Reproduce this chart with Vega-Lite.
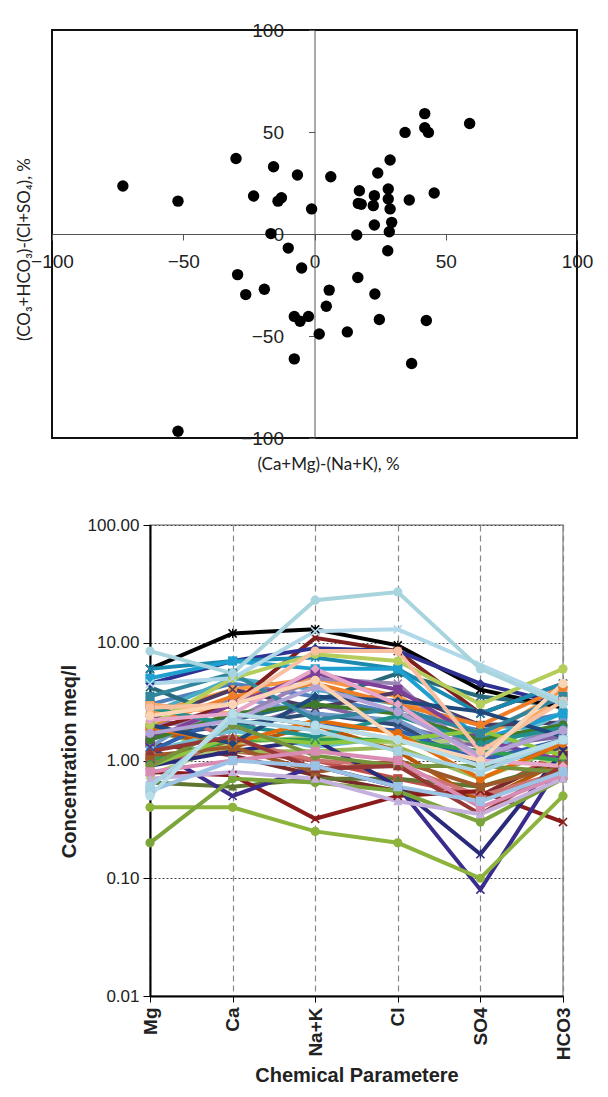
{
  "$schema": "https://vega.github.io/schema/vega-lite/v6.json",
  "background": "white",
  "padding": {"left": 14, "top": 20, "right": 5, "bottom": 5},
  "config": {
    "font": "Liberation Sans",
    "concat": {"spacing": 42}
  },
  "vconcat": [
    {
      "width": 525,
      "height": 408,
      "view": {"stroke": "#111", "strokeWidth": 2},
      "data": {"name": "scatter"},
      "mark": {"type": "point", "filled": true, "color": "#000", "size": 130, "opacity": 1},
      "encoding": {
        "x": {
          "field": "x", "type": "quantitative",
          "scale": {"domain": [-100, 100], "nice": false, "zero": false},
          "axis": {
            "orient": "bottom", "offset": -204, "values": [-100, -50, 0, 50, 100],
            "grid": false, "domainColor": "#555", "domainWidth": 1, "tickColor": "#555", "tickSize": 6,
            "labelPadding": 12, "labelFont": "Liberation Sans", "labelFontSize": 19, "labelColor": "#222", "labelFlush": false, "labelOverlap": false,
            "title": "(Ca+Mg)-(Na+K), %", "titleFont": "Lato", "titleFontSize": 17, "titleFontWeight": "normal",
            "titleColor": "#222", "titleX": 276, "titleY": 230, "titleBaseline": "middle", "titleAlign": "center"
          }
        },
        "y": {
          "field": "y", "type": "quantitative",
          "scale": {"domain": [-100, 100], "nice": false, "zero": false},
          "axis": {
            "orient": "left", "offset": -262.5, "values": [-100, -50, 0, 50, 100],
            "grid": false, "domainColor": "#555", "domainWidth": 1, "tickColor": "#555", "tickSize": 6,
            "labelPadding": 25, "labelFont": "Liberation Sans", "labelFontSize": 19, "labelColor": "#222", "labelFlush": false, "labelOverlap": false,
            "title": "(CO₃+HCO₃)-(Cl+SO₄), %", "titleFont": "Lato", "titleFontSize": 17, "titleFontWeight": "normal",
            "titleColor": "#222", "titleX": -290, "titleY": 219, "titleAngle": -90, "titleBaseline": "middle", "titleAlign": "center"
          }
        }
      }
    },
    {
      "spacing": 0,
      "hconcat": [
        {
          "width": 6,
          "height": 10,
          "view": {"stroke": null},
          "data": {"values": []},
          "mark": {"type": "point", "opacity": 0}
        },
        {
          "width": 413,
          "height": 471,
          "view": {"stroke": "#999", "strokeWidth": 1.5},
          "data": {"name": "ions"},
          "encoding": {
            "x": {
              "field": "p", "type": "nominal",
              "sort": ["Mg", "Ca", "Na+K", "Cl", "SO4", "HCO3"],
              "scale": {"type": "point", "padding": 0},
              "axis": {
                "labelAngle": -90, "labelFont": "Liberation Sans", "labelFontSize": 19, "labelFontWeight": "bold", "labelColor": "#222", "labelPadding": 5,
                "domainColor": "#000", "domainWidth": 2, "tickColor": "#000", "tickSize": 6,
                "grid": true, "gridColor": "#888", "gridDash": [6, 4], "gridWidth": 1.2,
                "title": "Chemical Parametere", "titleFont": "Liberation Sans", "titleFontSize": 20, "titleFontWeight": "bold", "titleColor": "#222", "titlePadding": 6
              }
            },
            "y": {
              "field": "v", "type": "quantitative",
              "scale": {"type": "log", "domain": [0.01, 100], "nice": false},
              "axis": {
                "values": [0.01, 0.1, 1, 10, 100], "format": ".2f",
                "labelFont": "Liberation Sans", "labelFontSize": 17, "labelColor": "#222", "labelPadding": 4,
                "domainColor": "#000", "domainWidth": 2, "tickColor": "#000", "tickSize": 7,
                "grid": true, "gridColor": "#444", "gridDash": [2, 2], "gridWidth": 1,
                "title": "Concentration meq/l", "titleFont": "Liberation Sans", "titleFontSize": 20, "titleFontWeight": "bold", "titleColor": "#222",
                "titleX": -81, "titleBaseline": "middle", "titleY": 236, "titleAlign": "center", "titleAngle": -90
              }
            },
            "color": {
              "field": "s", "type": "nominal", "legend": null,
              "scale": {
                "domain": ["a01","a02","a03","a04","a05","a06","a07","a08","a09","a10","a11","a12","a13","a14","a15","a16","a17","a18","a19","a20","a21","a22","a23","a24","a25","a26","a27","a28","a29","a30","a31","a32","a33","a34","a35","a36","a37","a38","a39","a40","a41","a42","a43","a44","a45","a46","a47","a48","a49","a50","a51","a52","a53"],
                "range": ["#4F81BD","#C0504D","#9BBB59","#8064A2","#4BACC6","#F79646","#2C4D75","#772C2A","#5F7530","#4D3B62","#276A7C","#B65708","#729ACA","#CD7371","#AFC97A","#9983B5","#6FBDD1","#F9AB6B","#000000","#8B1A1A","#7F1F1F","#3A2C8C","#2A2A7A","#2E3192","#1B8AB0","#1EA0D0","#F07E26","#7D3F98","#3060B0","#2F9E4E","#3E7A2A","#9C5A2A","#21908C","#8DC63F","#E46C0A","#1F497D","#76923C","#953735","#31859C","#8CB43C","#7BA43A","#B5CD5A","#E8A6C8","#D98CB3","#B3A2D6","#C4B0DC","#F8BFA0","#FBD4B4","#9CC3E5","#A6D3E3","#B7DDE8","#B0D8E8","#A8D4DE"]
              }
            }
          },
          "layer": [
            {"mark": {"type": "line", "strokeWidth": 4}},
            {
              "mark": {"type": "point", "filled": true, "size": 85, "opacity": 1},
              "encoding": {
                "shape": {
                  "field": "s", "type": "nominal", "legend": null,
                  "scale": {
                    "domain": ["a01","a02","a03","a04","a05","a06","a07","a08","a09","a10","a11","a12","a13","a14","a15","a16","a17","a18","a19","a20","a21","a22","a23","a24","a25","a26","a27","a28","a29","a30","a31","a32","a33","a34","a35","a36","a37","a38","a39","a40","a41","a42","a43","a44","a45","a46","a47","a48","a49","a50","a51","a52","a53"],
                    "range": ["diamond","square","triangle-up","M-1,-0.75L-0.75,-1L0,-0.25L0.75,-1L1,-0.75L0.25,0L1,0.75L0.75,1L0,0.25L-0.75,1L-1,0.75L-0.25,0Z","M-1,-0.75L-0.75,-1L0,-0.25L0.75,-1L1,-0.75L0.25,0L1,0.75L0.75,1L0,0.25L-0.75,1L-1,0.75L-0.25,0ZM-0.13,-1L0.13,-1L0.13,1L-0.13,1Z","circle","diamond","square","triangle-up","M-1,-0.75L-0.75,-1L0,-0.25L0.75,-1L1,-0.75L0.25,0L1,0.75L0.75,1L0,0.25L-0.75,1L-1,0.75L-0.25,0Z","M-1,-0.75L-0.75,-1L0,-0.25L0.75,-1L1,-0.75L0.25,0L1,0.75L0.75,1L0,0.25L-0.75,1L-1,0.75L-0.25,0ZM-0.13,-1L0.13,-1L0.13,1L-0.13,1Z","circle","diamond","square","triangle-up","M-1,-0.75L-0.75,-1L0,-0.25L0.75,-1L1,-0.75L0.25,0L1,0.75L0.75,1L0,0.25L-0.75,1L-1,0.75L-0.25,0Z","M-1,-0.75L-0.75,-1L0,-0.25L0.75,-1L1,-0.75L0.25,0L1,0.75L0.75,1L0,0.25L-0.75,1L-1,0.75L-0.25,0ZM-0.13,-1L0.13,-1L0.13,1L-0.13,1Z","circle","M-1,-0.75L-0.75,-1L0,-0.25L0.75,-1L1,-0.75L0.25,0L1,0.75L0.75,1L0,0.25L-0.75,1L-1,0.75L-0.25,0ZM-0.13,-1L0.13,-1L0.13,1L-0.13,1Z","M-1,-0.75L-0.75,-1L0,-0.25L0.75,-1L1,-0.75L0.25,0L1,0.75L0.75,1L0,0.25L-0.75,1L-1,0.75L-0.25,0Z","M-1,-0.75L-0.75,-1L0,-0.25L0.75,-1L1,-0.75L0.25,0L1,0.75L0.75,1L0,0.25L-0.75,1L-1,0.75L-0.25,0Z","M-1,-0.75L-0.75,-1L0,-0.25L0.75,-1L1,-0.75L0.25,0L1,0.75L0.75,1L0,0.25L-0.75,1L-1,0.75L-0.25,0Z","M-1,-0.75L-0.75,-1L0,-0.25L0.75,-1L1,-0.75L0.25,0L1,0.75L0.75,1L0,0.25L-0.75,1L-1,0.75L-0.25,0ZM-0.13,-1L0.13,-1L0.13,1L-0.13,1Z","diamond","M-1,-0.75L-0.75,-1L0,-0.25L0.75,-1L1,-0.75L0.25,0L1,0.75L0.75,1L0,0.25L-0.75,1L-1,0.75L-0.25,0ZM-0.13,-1L0.13,-1L0.13,1L-0.13,1Z","square","circle","square","diamond","triangle-up","circle","square","diamond","triangle-up","circle","diamond","circle","triangle-up","square","circle","circle","circle","diamond","square","circle","triangle-up","circle","circle","square","square","circle","M-1,-0.75L-0.75,-1L0,-0.25L0.75,-1L1,-0.75L0.25,0L1,0.75L0.75,1L0,0.25L-0.75,1L-1,0.75L-0.25,0Z","circle"]
                  }
                }
              }
            }
          ]
        }
      ]
    }
  ],
  "datasets": {
    "scatter": [
      {"x": -73.0, "y": 23.5}, {"x": -52.0, "y": 16.1}, {"x": -52.0, "y": -96.7}, {"x": -29.9, "y": 37.0},
      {"x": -23.2, "y": 18.6}, {"x": -15.6, "y": 33.0}, {"x": -13.9, "y": 16.1}, {"x": -12.6, "y": 17.8},
      {"x": -6.5, "y": 28.9}, {"x": 6.2, "y": 28.1}, {"x": -1.1, "y": 12.3}, {"x": -16.6, "y": 0.2},
      {"x": -10.0, "y": -6.9}, {"x": -4.9, "y": -16.7}, {"x": -29.3, "y": -19.9}, {"x": -19.1, "y": -27.1},
      {"x": -26.2, "y": -29.7}, {"x": 5.6, "y": -27.5}, {"x": 4.5, "y": -35.4}, {"x": -7.7, "y": -40.4},
      {"x": -5.5, "y": -42.8}, {"x": -2.3, "y": -40.4}, {"x": 1.8, "y": -49.0}, {"x": 12.5, "y": -48.0},
      {"x": -7.7, "y": -61.2}, {"x": 37.0, "y": -63.5}, {"x": 42.6, "y": -42.4}, {"x": 24.7, "y": -41.9},
      {"x": 23.0, "y": -29.4}, {"x": 16.5, "y": -21.3}, {"x": 27.9, "y": -8.2}, {"x": 16.1, "y": -0.5},
      {"x": 22.8, "y": 4.4}, {"x": 29.4, "y": 5.7}, {"x": 28.8, "y": 12.3}, {"x": 16.7, "y": 15.0},
      {"x": 17.8, "y": 14.6}, {"x": 17.1, "y": 21.2}, {"x": 22.4, "y": 13.9}, {"x": 22.8, "y": 18.8},
      {"x": 28.1, "y": 22.1}, {"x": 28.1, "y": 17.2}, {"x": 24.1, "y": 29.9}, {"x": 28.8, "y": 36.3},
      {"x": 36.1, "y": 16.7}, {"x": 45.6, "y": 20.1}, {"x": 34.5, "y": 49.8}, {"x": 42.0, "y": 59.0},
      {"x": 42.0, "y": 52.1}, {"x": 43.4, "y": 49.8}, {"x": 59.1, "y": 54.2}, {"x": 28.5, "y": 1.1}
    ],
    "ions": [
      {"s":"a01","p":"Mg","v":3.0},{"s":"a01","p":"Ca","v":4.5},{"s":"a01","p":"Na+K","v":3.5},{"s":"a01","p":"Cl","v":2.5},{"s":"a01","p":"SO4","v":1.8},{"s":"a01","p":"HCO3","v":2.5},
      {"s":"a02","p":"Mg","v":1.0},{"s":"a02","p":"Ca","v":1.2},{"s":"a02","p":"Na+K","v":1.0},{"s":"a02","p":"Cl","v":0.7},{"s":"a02","p":"SO4","v":0.5},{"s":"a02","p":"HCO3","v":1.2},
      {"s":"a03","p":"Mg","v":1.8},{"s":"a03","p":"Ca","v":1.2},{"s":"a03","p":"Na+K","v":1.2},{"s":"a03","p":"Cl","v":1.3},{"s":"a03","p":"SO4","v":0.7},{"s":"a03","p":"HCO3","v":1.3},
      {"s":"a04","p":"Mg","v":2.2},{"s":"a04","p":"Ca","v":1.8},{"s":"a04","p":"Na+K","v":3.0},{"s":"a04","p":"Cl","v":2.0},{"s":"a04","p":"SO4","v":1.3},{"s":"a04","p":"HCO3","v":1.6},
      {"s":"a05","p":"Mg","v":2.5},{"s":"a05","p":"Ca","v":5.0},{"s":"a05","p":"Na+K","v":4.0},{"s":"a05","p":"Cl","v":3.0},{"s":"a05","p":"SO4","v":2.0},{"s":"a05","p":"HCO3","v":1.8},
      {"s":"a06","p":"Mg","v":2.5},{"s":"a06","p":"Ca","v":4.0},{"s":"a06","p":"Na+K","v":5.0},{"s":"a06","p":"Cl","v":3.5},{"s":"a06","p":"SO4","v":1.5},{"s":"a06","p":"HCO3","v":4.0},
      {"s":"a07","p":"Mg","v":1.6},{"s":"a07","p":"Ca","v":2.0},{"s":"a07","p":"Na+K","v":2.5},{"s":"a07","p":"Cl","v":2.0},{"s":"a07","p":"SO4","v":0.9},{"s":"a07","p":"HCO3","v":1.3},
      {"s":"a08","p":"Mg","v":1.4},{"s":"a08","p":"Ca","v":1.1},{"s":"a08","p":"Na+K","v":0.75},{"s":"a08","p":"Cl","v":0.55},{"s":"a08","p":"SO4","v":0.5},{"s":"a08","p":"HCO3","v":1.1},
      {"s":"a09","p":"Mg","v":0.65},{"s":"a09","p":"Ca","v":0.6},{"s":"a09","p":"Na+K","v":0.7},{"s":"a09","p":"Cl","v":0.7},{"s":"a09","p":"SO4","v":0.6},{"s":"a09","p":"HCO3","v":0.95},
      {"s":"a10","p":"Mg","v":2.2},{"s":"a10","p":"Ca","v":4.0},{"s":"a10","p":"Na+K","v":2.8},{"s":"a10","p":"Cl","v":3.8},{"s":"a10","p":"SO4","v":2.0},{"s":"a10","p":"HCO3","v":2.1},
      {"s":"a11","p":"Mg","v":4.2},{"s":"a11","p":"Ca","v":2.2},{"s":"a11","p":"Na+K","v":3.2},{"s":"a11","p":"Cl","v":5.5},{"s":"a11","p":"SO4","v":3.5},{"s":"a11","p":"HCO3","v":2.9},
      {"s":"a12","p":"Mg","v":1.8},{"s":"a12","p":"Ca","v":1.3},{"s":"a12","p":"Na+K","v":2.0},{"s":"a12","p":"Cl","v":1.2},{"s":"a12","p":"SO4","v":0.45},{"s":"a12","p":"HCO3","v":1.0},
      {"s":"a13","p":"Mg","v":1.3},{"s":"a13","p":"Ca","v":3.5},{"s":"a13","p":"Na+K","v":2.5},{"s":"a13","p":"Cl","v":2.2},{"s":"a13","p":"SO4","v":1.0},{"s":"a13","p":"HCO3","v":2.2},
      {"s":"a14","p":"Mg","v":3.0},{"s":"a14","p":"Ca","v":1.5},{"s":"a14","p":"Na+K","v":1.0},{"s":"a14","p":"Cl","v":0.9},{"s":"a14","p":"SO4","v":0.5},{"s":"a14","p":"HCO3","v":0.8},
      {"s":"a15","p":"Mg","v":0.75},{"s":"a15","p":"Ca","v":1.4},{"s":"a15","p":"Na+K","v":1.6},{"s":"a15","p":"Cl","v":1.4},{"s":"a15","p":"SO4","v":1.5},{"s":"a15","p":"HCO3","v":0.9},
      {"s":"a16","p":"Mg","v":2.0},{"s":"a16","p":"Ca","v":2.2},{"s":"a16","p":"Na+K","v":5.0},{"s":"a16","p":"Cl","v":4.5},{"s":"a16","p":"SO4","v":1.0},{"s":"a16","p":"HCO3","v":2.0},
      {"s":"a17","p":"Mg","v":1.2},{"s":"a17","p":"Ca","v":1.8},{"s":"a17","p":"Na+K","v":1.3},{"s":"a17","p":"Cl","v":1.6},{"s":"a17","p":"SO4","v":1.1},{"s":"a17","p":"HCO3","v":2.6},
      {"s":"a18","p":"Mg","v":3.0},{"s":"a18","p":"Ca","v":2.5},{"s":"a18","p":"Na+K","v":2.0},{"s":"a18","p":"Cl","v":1.5},{"s":"a18","p":"SO4","v":1.2},{"s":"a18","p":"HCO3","v":3.5},
      {"s":"a19","p":"Mg","v":6.0},{"s":"a19","p":"Ca","v":12.0},{"s":"a19","p":"Na+K","v":13.0},{"s":"a19","p":"Cl","v":9.5},{"s":"a19","p":"SO4","v":4.0},{"s":"a19","p":"HCO3","v":2.8},
      {"s":"a20","p":"Mg","v":0.8},{"s":"a20","p":"Ca","v":0.75},{"s":"a20","p":"Na+K","v":0.32},{"s":"a20","p":"Cl","v":0.5},{"s":"a20","p":"SO4","v":0.55},{"s":"a20","p":"HCO3","v":0.3},
      {"s":"a21","p":"Mg","v":1.8},{"s":"a21","p":"Ca","v":3.0},{"s":"a21","p":"Na+K","v":11.0},{"s":"a21","p":"Cl","v":8.5},{"s":"a21","p":"SO4","v":2.5},{"s":"a21","p":"HCO3","v":4.5},
      {"s":"a22","p":"Mg","v":1.3},{"s":"a22","p":"Ca","v":0.5},{"s":"a22","p":"Na+K","v":0.9},{"s":"a22","p":"Cl","v":0.6},{"s":"a22","p":"SO4","v":0.08},{"s":"a22","p":"HCO3","v":1.0},
      {"s":"a23","p":"Mg","v":0.9},{"s":"a23","p":"Ca","v":1.2},{"s":"a23","p":"Na+K","v":1.5},{"s":"a23","p":"Cl","v":0.6},{"s":"a23","p":"SO4","v":0.16},{"s":"a23","p":"HCO3","v":1.2},
      {"s":"a24","p":"Mg","v":4.5},{"s":"a24","p":"Ca","v":7.0},{"s":"a24","p":"Na+K","v":9.0},{"s":"a24","p":"Cl","v":8.5},{"s":"a24","p":"SO4","v":4.5},{"s":"a24","p":"HCO3","v":3.0},
      {"s":"a25","p":"Mg","v":6.0},{"s":"a25","p":"Ca","v":7.0},{"s":"a25","p":"Na+K","v":7.5},{"s":"a25","p":"Cl","v":6.0},{"s":"a25","p":"SO4","v":2.5},{"s":"a25","p":"HCO3","v":4.5},
      {"s":"a26","p":"Mg","v":5.0},{"s":"a26","p":"Ca","v":7.0},{"s":"a26","p":"Na+K","v":6.0},{"s":"a26","p":"Cl","v":6.0},{"s":"a26","p":"SO4","v":1.5},{"s":"a26","p":"HCO3","v":2.5},
      {"s":"a27","p":"Mg","v":2.0},{"s":"a27","p":"Ca","v":3.5},{"s":"a27","p":"Na+K","v":4.5},{"s":"a27","p":"Cl","v":3.0},{"s":"a27","p":"SO4","v":2.0},{"s":"a27","p":"HCO3","v":4.2},
      {"s":"a28","p":"Mg","v":1.5},{"s":"a28","p":"Ca","v":3.0},{"s":"a28","p":"Na+K","v":5.5},{"s":"a28","p":"Cl","v":4.0},{"s":"a28","p":"SO4","v":1.5},{"s":"a28","p":"HCO3","v":1.0},
      {"s":"a29","p":"Mg","v":1.2},{"s":"a29","p":"Ca","v":2.5},{"s":"a29","p":"Na+K","v":2.0},{"s":"a29","p":"Cl","v":1.8},{"s":"a29","p":"SO4","v":1.0},{"s":"a29","p":"HCO3","v":1.5},
      {"s":"a30","p":"Mg","v":1.0},{"s":"a30","p":"Ca","v":1.5},{"s":"a30","p":"Na+K","v":1.5},{"s":"a30","p":"Cl","v":1.5},{"s":"a30","p":"SO4","v":1.2},{"s":"a30","p":"HCO3","v":1.0},
      {"s":"a31","p":"Mg","v":1.5},{"s":"a31","p":"Ca","v":2.5},{"s":"a31","p":"Na+K","v":3.0},{"s":"a31","p":"Cl","v":2.5},{"s":"a31","p":"SO4","v":1.5},{"s":"a31","p":"HCO3","v":2.0},
      {"s":"a32","p":"Mg","v":1.1},{"s":"a32","p":"Ca","v":1.3},{"s":"a32","p":"Na+K","v":0.8},{"s":"a32","p":"Cl","v":1.0},{"s":"a32","p":"SO4","v":0.6},{"s":"a32","p":"HCO3","v":0.9},
      {"s":"a33","p":"Mg","v":2.8},{"s":"a33","p":"Ca","v":2.0},{"s":"a33","p":"Na+K","v":1.6},{"s":"a33","p":"Cl","v":2.4},{"s":"a33","p":"SO4","v":1.4},{"s":"a33","p":"HCO3","v":1.9},
      {"s":"a34","p":"Mg","v":0.9},{"s":"a34","p":"Ca","v":1.6},{"s":"a34","p":"Na+K","v":1.4},{"s":"a34","p":"Cl","v":1.5},{"s":"a34","p":"SO4","v":1.8},{"s":"a34","p":"HCO3","v":1.1},
      {"s":"a35","p":"Mg","v":1.9},{"s":"a35","p":"Ca","v":1.4},{"s":"a35","p":"Na+K","v":2.2},{"s":"a35","p":"Cl","v":1.7},{"s":"a35","p":"SO4","v":0.7},{"s":"a35","p":"HCO3","v":1.4},
      {"s":"a36","p":"Mg","v":2.0},{"s":"a36","p":"Ca","v":1.4},{"s":"a36","p":"Na+K","v":3.5},{"s":"a36","p":"Cl","v":3.2},{"s":"a36","p":"SO4","v":2.6},{"s":"a36","p":"HCO3","v":1.6},
      {"s":"a37","p":"Mg","v":0.9},{"s":"a37","p":"Ca","v":2.0},{"s":"a37","p":"Na+K","v":1.1},{"s":"a37","p":"Cl","v":0.9},{"s":"a37","p":"SO4","v":0.9},{"s":"a37","p":"HCO3","v":0.8},
      {"s":"a38","p":"Mg","v":1.2},{"s":"a38","p":"Ca","v":1.6},{"s":"a38","p":"Na+K","v":0.85},{"s":"a38","p":"Cl","v":0.9},{"s":"a38","p":"SO4","v":0.35},{"s":"a38","p":"HCO3","v":0.9},
      {"s":"a39","p":"Mg","v":3.5},{"s":"a39","p":"Ca","v":5.5},{"s":"a39","p":"Na+K","v":2.2},{"s":"a39","p":"Cl","v":2.8},{"s":"a39","p":"SO4","v":1.7},{"s":"a39","p":"HCO3","v":3.5},
      {"s":"a40","p":"Mg","v":0.4},{"s":"a40","p":"Ca","v":0.4},{"s":"a40","p":"Na+K","v":0.25},{"s":"a40","p":"Cl","v":0.2},{"s":"a40","p":"SO4","v":0.1},{"s":"a40","p":"HCO3","v":0.5},
      {"s":"a41","p":"Mg","v":0.2},{"s":"a41","p":"Ca","v":0.7},{"s":"a41","p":"Na+K","v":0.65},{"s":"a41","p":"Cl","v":0.55},{"s":"a41","p":"SO4","v":0.3},{"s":"a41","p":"HCO3","v":0.7},
      {"s":"a42","p":"Mg","v":2.0},{"s":"a42","p":"Ca","v":5.0},{"s":"a42","p":"Na+K","v":8.0},{"s":"a42","p":"Cl","v":7.0},{"s":"a42","p":"SO4","v":3.0},{"s":"a42","p":"HCO3","v":6.0},
      {"s":"a43","p":"Mg","v":2.2},{"s":"a43","p":"Ca","v":2.5},{"s":"a43","p":"Na+K","v":6.0},{"s":"a43","p":"Cl","v":3.0},{"s":"a43","p":"SO4","v":1.0},{"s":"a43","p":"HCO3","v":0.9},
      {"s":"a44","p":"Mg","v":0.8},{"s":"a44","p":"Ca","v":1.0},{"s":"a44","p":"Na+K","v":1.2},{"s":"a44","p":"Cl","v":1.0},{"s":"a44","p":"SO4","v":0.4},{"s":"a44","p":"HCO3","v":0.75},
      {"s":"a45","p":"Mg","v":1.7},{"s":"a45","p":"Ca","v":2.2},{"s":"a45","p":"Na+K","v":4.2},{"s":"a45","p":"Cl","v":2.6},{"s":"a45","p":"SO4","v":1.1},{"s":"a45","p":"HCO3","v":1.8},
      {"s":"a46","p":"Mg","v":0.7},{"s":"a46","p":"Ca","v":0.8},{"s":"a46","p":"Na+K","v":0.7},{"s":"a46","p":"Cl","v":0.45},{"s":"a46","p":"SO4","v":0.35},{"s":"a46","p":"HCO3","v":0.7},
      {"s":"a47","p":"Mg","v":2.8},{"s":"a47","p":"Ca","v":3.0},{"s":"a47","p":"Na+K","v":8.5},{"s":"a47","p":"Cl","v":8.5},{"s":"a47","p":"SO4","v":1.2},{"s":"a47","p":"HCO3","v":3.2},
      {"s":"a48","p":"Mg","v":2.4},{"s":"a48","p":"Ca","v":3.0},{"s":"a48","p":"Na+K","v":4.8},{"s":"a48","p":"Cl","v":1.5},{"s":"a48","p":"SO4","v":1.0},{"s":"a48","p":"HCO3","v":4.5},
      {"s":"a49","p":"Mg","v":0.55},{"s":"a49","p":"Ca","v":1.0},{"s":"a49","p":"Na+K","v":0.9},{"s":"a49","p":"Cl","v":0.6},{"s":"a49","p":"SO4","v":0.45},{"s":"a49","p":"HCO3","v":0.8},
      {"s":"a50","p":"Mg","v":0.6},{"s":"a50","p":"Ca","v":2.2},{"s":"a50","p":"Na+K","v":1.8},{"s":"a50","p":"Cl","v":1.2},{"s":"a50","p":"SO4","v":0.8},{"s":"a50","p":"HCO3","v":1.5},
      {"s":"a51","p":"Mg","v":0.5},{"s":"a51","p":"Ca","v":2.5},{"s":"a51","p":"Na+K","v":2.0},{"s":"a51","p":"Cl","v":1.5},{"s":"a51","p":"SO4","v":0.9},{"s":"a51","p":"HCO3","v":1.5},
      {"s":"a52","p":"Mg","v":4.5},{"s":"a52","p":"Ca","v":5.0},{"s":"a52","p":"Na+K","v":12.5},{"s":"a52","p":"Cl","v":13.0},{"s":"a52","p":"SO4","v":6.5},{"s":"a52","p":"HCO3","v":3.2},
      {"s":"a53","p":"Mg","v":8.5},{"s":"a53","p":"Ca","v":5.5},{"s":"a53","p":"Na+K","v":23.0},{"s":"a53","p":"Cl","v":27.0},{"s":"a53","p":"SO4","v":6.0},{"s":"a53","p":"HCO3","v":3.0}
    ]
  }
}
